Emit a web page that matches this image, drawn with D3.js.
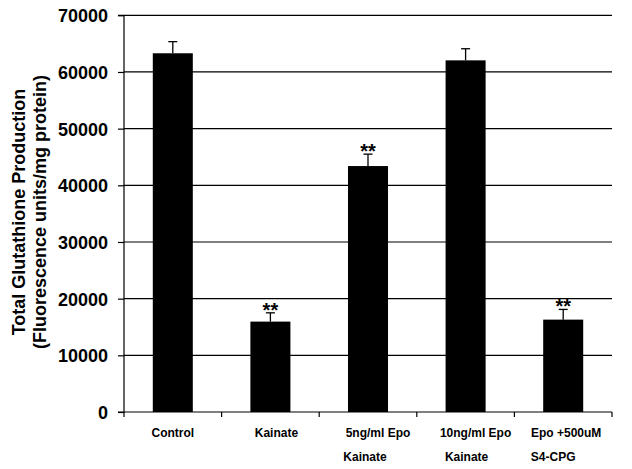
<!DOCTYPE html>
<html><head><meta charset="utf-8">
<script src="https://cdn.jsdelivr.net/npm/d3@7"></script>
<style>body{margin:0;background:#fff}svg{display:block}</style>
</head><body>
<svg id="c" width="632" height="469"></svg>
<script>
const categories = ["Control", "Kainate", "5ng/ml Epo|Kainate", "10ng/ml Epo|Kainate", "Epo +500uM|S4-CPG"];
const values = [63300, 15950, 43400, 62050, 16300];
const errors = [2050, 1550, 2100, 2050, 1800];
const significance = ["", "**", "**", "", "**"];
const yTicks = [0, 10000, 20000, 30000, 40000, 50000, 60000, 70000];
const yTitle = ["Total Glutathione Production", "(Fluorescence units/mg protein)"];

const svg = d3.select("#c");
const m = {l:124, r:20, t:15.3, b:57};
const W = 632, H = 469;
const x = d3.scaleBand().domain(categories).range([m.l, W - m.r]).paddingInner(0.59).paddingOuter(0.295);
const y = d3.scaleLinear().domain([0, 70000]).range([412, m.t]);

// gridlines
svg.append("g").selectAll("line").data(yTicks.filter(d => d > 0)).join("line")
  .attr("x1", m.l).attr("x2", W - m.r)
  .attr("y1", d => y(d)).attr("y2", d => y(d))
  .attr("stroke", "#000").attr("stroke-width", 1.2);

// bars
svg.append("g").selectAll("rect").data(values).join("rect")
  .attr("x", (d, i) => x(categories[i]))
  .attr("width", x.bandwidth())
  .attr("y", d => y(d))
  .attr("height", d => y(0) - y(d))
  .attr("fill", "#000");

// error bars
const eg = svg.append("g").attr("stroke", "#000").attr("stroke-width", 1.3);
values.forEach((v, i) => {
  const cx = x(categories[i]) + x.bandwidth() / 2;
  eg.append("line").attr("x1", cx).attr("x2", cx).attr("y1", y(v)).attr("y2", y(v + errors[i]));
  eg.append("line").attr("x1", cx - 4.5).attr("x2", cx + 4.5).attr("y1", y(v + errors[i])).attr("y2", y(v + errors[i]));
  if (significance[i]) {
    svg.append("text").attr("x", cx).attr("y", y(v + errors[i]) + 4)
      .attr("text-anchor", "middle").attr("font-family", "Liberation Sans, Arial, sans-serif")
      .attr("font-weight", "bold").attr("font-size", 20).attr("fill", "#000").text(significance[i]);
  }
});

// y axis
const yAxis = d3.axisLeft(y).tickValues(yTicks).tickSize(6).tickPadding(10).tickFormat(d3.format("d"));
const ya = svg.append("g").attr("transform", `translate(${m.l},0)`).call(yAxis);
ya.select(".domain").attr("stroke", "#000").attr("stroke-width", 1.2).attr("d", `M-6,${y(0)}H0V${y(70000)}H-6`);
ya.selectAll(".tick line").attr("stroke", "#000").attr("stroke-width", 1.2);
ya.selectAll("text").attr("font-family", "Liberation Sans, Arial, sans-serif").attr("font-weight", "bold")
  .attr("font-size", 18).attr("fill", "#000").attr("dy", "0.36em");

// x axis
const xa = svg.append("g").attr("transform", `translate(0,${y(0)})`);
xa.append("line").attr("x1", m.l).attr("x2", W - m.r).attr("stroke", "#000").attr("stroke-width", 1.2);
const bandEdges = categories.map(c => x(c) - x.step() * x.paddingInner() / 2).concat([W - m.r]);
xa.selectAll("line.t").data(bandEdges).join("line").attr("class", "t")
  .attr("x1", d => d).attr("x2", d => d).attr("y1", 0).attr("y2", 5)
  .attr("stroke", "#000").attr("stroke-width", 1.2);

// label line offsets (layout)
const labelDx = [[0, 0], [6, 0], [10, -3], [10, 1], [3, -10]];
categories.forEach((c, i) => {
  const cx = x(c) + x.bandwidth() / 2;
  c.split("|").forEach((line, j) => {
    svg.append("text").attr("x", cx + labelDx[i][j]).attr("y", 437 + j * 23.5)
      .attr("text-anchor", "middle").attr("font-family", "Liberation Sans, Arial, sans-serif")
      .attr("font-weight", "bold").attr("font-size", 12).attr("fill", "#000").text(line);
  });
});

// y title
yTitle.forEach((t, j) => {
  svg.append("text").attr("transform", `translate(${25 + j * 21},${212}) rotate(-90)`)
    .attr("text-anchor", "middle").attr("font-family", "Liberation Sans, Arial, sans-serif")
    .attr("font-weight", "bold").attr("font-size", 18).attr("fill", "#000").text(t);
});
</script>
</body></html>
